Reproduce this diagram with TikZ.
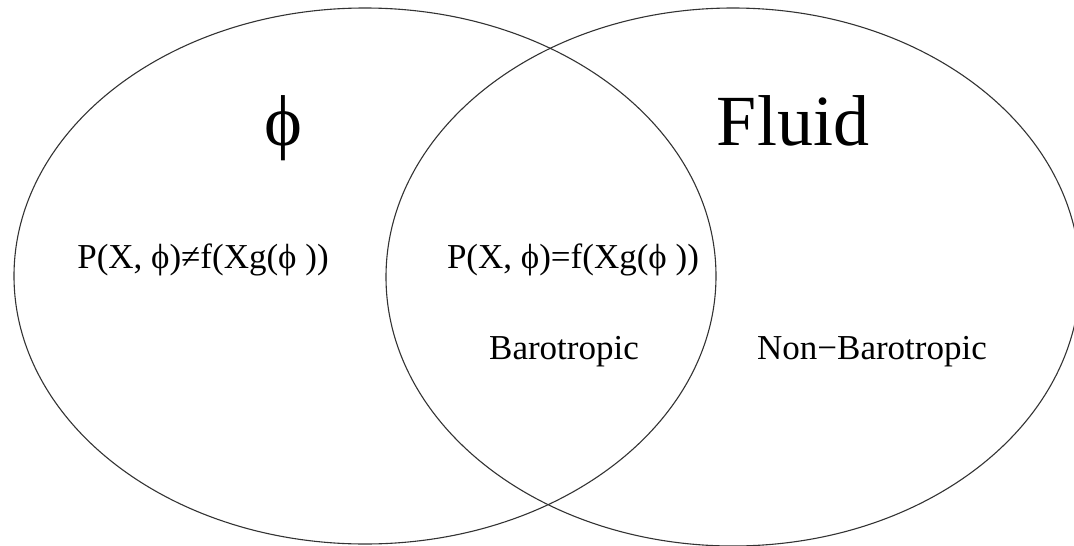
\documentclass[tikz,border=0pt]{standalone}
\usepackage{fontspec}
\setmainfont{Liberation Serif}
\usepackage{tikz}
\definecolor{venngray}{HTML}{333333}

\tikzset{
  vennline/.style={venngray,line width=1.1pt},
  biglabel/.style={anchor=base,inner sep=0pt,font=\fontsize{72}{72}\selectfont},
  midlabel/.style={anchor=base,inner sep=0pt,font=\fontsize{35}{35}\selectfont}
}

\begin{document}
\begin{tikzpicture}[x=1pt,y=-1pt]
  \useasboundingbox (0,0) rectangle (1074,546);
  \draw[vennline] (365,276) circle[x radius=351pt,y radius=268pt];
  \draw[vennline] (733,277) circle[x radius=347pt,y radius=269pt];
  \node[biglabel] (phi) at (283,145) {ϕ};
  \node[biglabel] (fluid) at (793,145) {Fluid};
  \node[midlabel] (nonbar) at (203,268) {P(X, ϕ)≠f(Xg(ϕ ))};
  \node[midlabel] (bar) at (573,268) {P(X, ϕ)=f(Xg(ϕ ))};
  \node[midlabel] (barlbl) at (564,359) {Barotropic};
  \node[midlabel] (nonbarlbl) at (872,359) {Non−Barotropic};
\end{tikzpicture}
\end{document}
